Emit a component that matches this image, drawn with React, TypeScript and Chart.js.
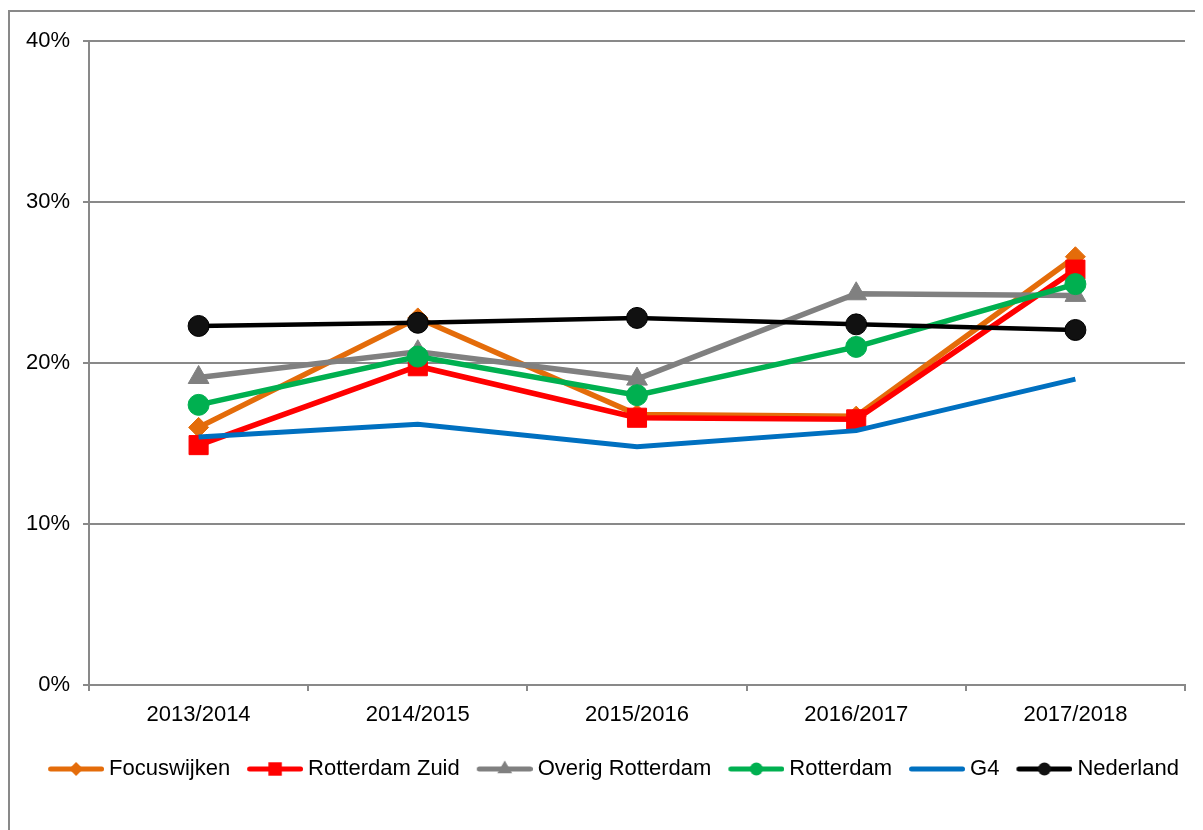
import React, { useEffect, useRef } from "react";
import { Chart, registerables } from "chart.js";

Chart.register(...registerables);

const categories = ["2013/2014", "2014/2015", "2015/2016", "2016/2017", "2017/2018"];
const yTickLabels = ["0%", "10%", "20%", "30%", "40%"];

const focuswijken = [16.0, 22.8, 16.8, 16.7, 26.6];
const rotterdamZuid = [14.9, 19.8, 16.6, 16.5, 25.8];
const overigRotterdam = [19.1, 20.7, 19.0, 24.3, 24.2];
const rotterdam = [17.4, 20.4, 18.0, 21.0, 24.9];
const g4 = [15.4, 16.2, 14.8, 15.8, 19.0];
const nederland = [22.3, 22.5, 22.8, 22.4, 22.05];

const seriesNames = ["Focuswijken", "Rotterdam Zuid", "Overig Rotterdam", "Rotterdam", "G4", "Nederland"];
const seriesColors = ["#E46C0A", "#FF0000", "#808080", "#00B050", "#0070C0", "#000000"];
const seriesFills = ["#E46C0A", "#FF0000", "#808080", "#00B050", "#0070C0", "#111111"];
const seriesStyles = ["rectRot", "rect", "triangle", "circle", "circle", "circle"];
const seriesRadius = [10, 13.5, 12, 10.5, 0, 10.5];
const legendRadius = [7, 9.5, 8.5, 6.5, 0, 6.5];
const seriesWidth = [5.5, 5.5, 5.5, 5.5, 5, 4.5];
const seriesValues = [focuswijken, rotterdamZuid, overigRotterdam, rotterdam, g4, nederland];

const LEGEND_BOX = 66;
const LEGEND_IMG_W = 78;

function makeLegendImage(i: number): HTMLCanvasElement {
  const c = document.createElement("canvas");
  c.width = LEGEND_IMG_W;
  c.height = 22;
  const ctx = c.getContext("2d")!;
  ctx.strokeStyle = seriesColors[i];
  ctx.lineWidth = 5;
  ctx.lineCap = "round";
  ctx.beginPath();
  ctx.moveTo(24.5, 11);
  ctx.lineTo(75.5, 11);
  ctx.stroke();
  const r = legendRadius[i];
  if (r > 0) {
    ctx.fillStyle = seriesFills[i];
    ctx.beginPath();
    const cx = 50, cy = 11;
    const st = seriesStyles[i];
    if (st === "rectRot") {
      ctx.moveTo(cx - r, cy);
      ctx.lineTo(cx, cy - r);
      ctx.lineTo(cx + r, cy);
      ctx.lineTo(cx, cy + r);
      ctx.closePath();
    } else if (st === "rect") {
      const s = r * Math.SQRT1_2;
      ctx.rect(cx - s, cy - s, 2 * s, 2 * s);
    } else if (st === "triangle") {
      ctx.moveTo(cx, cy - r);
      ctx.lineTo(cx + r * 0.866, cy + r * 0.5);
      ctx.lineTo(cx - r * 0.866, cy + r * 0.5);
      ctx.closePath();
    } else {
      ctx.arc(cx, cy, r, 0, Math.PI * 2);
    }
    ctx.fill();
  }
  return c;
}

export default function App() {
  const ref = useRef<HTMLCanvasElement | null>(null);

  useEffect(() => {
    document.documentElement.style.overflow = "hidden";
    const canvas = ref.current;
    if (!canvas) return;
    const legendImages = seriesNames.map((_, i) => makeLegendImage(i));
    const n = seriesNames.length;
    const chart = new Chart(canvas, {
      type: "line",
      data: {
        labels: categories,
        datasets: seriesNames.map((name, i) => ({
          label: name,
          data: seriesValues[i],
          borderColor: seriesColors[i],
          backgroundColor: seriesFills[i],
          borderWidth: seriesWidth[i],
          pointStyle: seriesStyles[i] as any,
          pointRadius: seriesRadius[i],
          pointBackgroundColor: seriesFills[i],
          pointBorderColor: seriesColors[i],
          pointBorderWidth: 1,
          tension: 0,
          fill: false,
          order: n - 1 - i,
          borderCapStyle: "butt" as const,
        })),
      },
      options: {
        responsive: false,
        animation: false,
        events: [],
        layout: { padding: { top: 29, right: 18, bottom: 40, left: 16 } },
        font: { family: "'Liberation Sans', Arial, sans-serif", size: 22 },
        scales: {
          x: {
            type: "category",
            offset: true,
            grid: { display: true, drawOnChartArea: false, offset: true, tickLength: 6, color: "#898989", lineWidth: 2 },
            border: { display: true, color: "#898989", width: 2 },
            ticks: { color: "#000", padding: 11, font: { family: "'Liberation Sans', Arial, sans-serif", size: 22 }, maxRotation: 0 },
            afterFit: (scale: any) => { scale.height = 72; },
          },
          y: {
            min: 0,
            max: 40,
            ticks: {
              stepSize: 10,
              color: "#000",
              padding: 13,
              font: { family: "'Liberation Sans', Arial, sans-serif", size: 22 },
              callback: (v: any) => yTickLabels[Math.round(Number(v) / 10)] ?? "",
            },
            grid: { color: "#898989", lineWidth: 2, tickLength: 6 },
            border: { display: true, color: "#898989", width: 2 },
            afterFit: (scale: any) => { scale.width = 63; },
          },
        },
        plugins: {
          tooltip: { enabled: false },
          legend: {
            position: "bottom",
            labels: {
              color: "#000",
              font: { family: "'Liberation Sans', Arial, sans-serif", size: 22 },
              usePointStyle: true,
              pointStyleWidth: LEGEND_BOX,
              padding: 1,
              generateLabels: () =>
                seriesNames.map((name, i) => ({
                  text: name,
                  pointStyle: legendImages[i] as any,
                  fillStyle: seriesColors[i],
                  strokeStyle: seriesColors[i],
                  lineWidth: 0,
                  hidden: false,
                  datasetIndex: i,
                  fontColor: "#000",
                })),
            },
          },
        },
      },
    } as any);
    return () => chart.destroy();
  }, []);

  return (
    <div
      style={{
        marginTop: 2,
        borderLeft: "2px solid #898989",
        borderTop: "2px solid #898989",
        width: 1193,
        height: 818,
        background: "#fff",
      }}
    >
      <canvas ref={ref} width={1193} height={818} style={{ display: "block" }} />
    </div>
  );
}
